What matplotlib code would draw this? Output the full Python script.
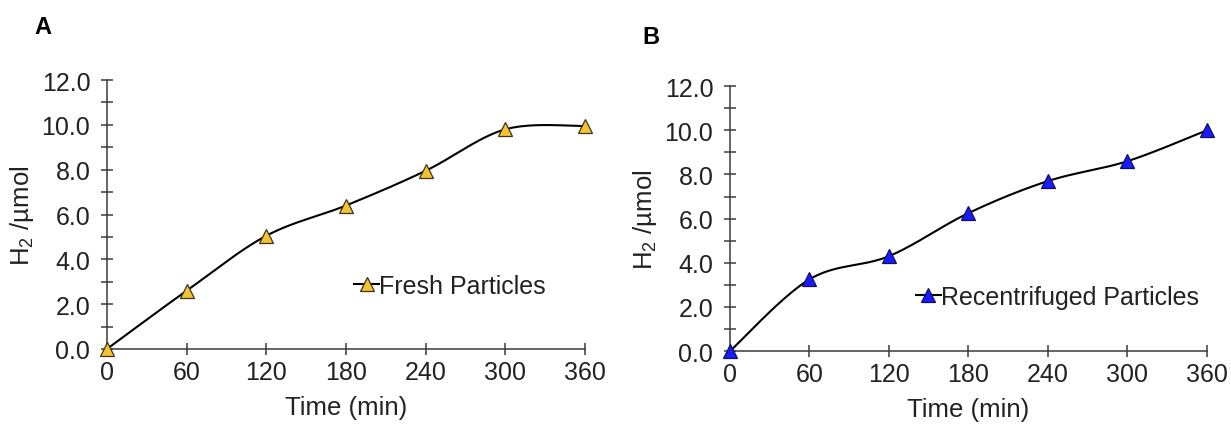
import numpy as np
import matplotlib
matplotlib.use("Agg")
import matplotlib.pyplot as plt
from matplotlib.ticker import MultipleLocator, FormatStrFormatter

# data
time_min = [0, 60, 120, 180, 240, 300, 360]
fresh = [0.0, 2.6, 5.05, 6.4, 7.95, 9.8, 9.95]
recent = [0.0, 3.25, 4.3, 6.25, 7.7, 8.6, 10.0]

plt.rcParams.update({
    "font.family": ["Liberation Sans", "DejaVu Sans"],
    "mathtext.fontset": "custom",
    "mathtext.rm": "Liberation Sans",
    "mathtext.it": "Liberation Sans:italic",
})

AXC = "#3a3a3a"


def smooth(x, y, n=40):
    # Excel-style smoothed line: cubic bezier with catmull-rom control points
    x = np.asarray(x, float)
    y = np.asarray(y, float)
    px = np.concatenate([[x[0]], x, [x[-1]]])
    py = np.concatenate([[y[0]], y, [y[-1]]])
    xs, ys = [], []
    t = np.linspace(0, 1, n)
    for i in range(1, len(px) - 2):
        p0 = np.array([px[i], py[i]])
        p3 = np.array([px[i + 1], py[i + 1]])
        c1 = p0 + (np.array([px[i + 1], py[i + 1]]) - np.array([px[i - 1], py[i - 1]])) / 6
        c2 = p3 - (np.array([px[i + 2], py[i + 2]]) - np.array([px[i], py[i]])) / 6
        b = ((1 - t) ** 3)[:, None] * p0 + (3 * (1 - t) ** 2 * t)[:, None] * c1 \
            + (3 * (1 - t) * t ** 2)[:, None] * c2 + (t ** 3)[:, None] * p3
        xs.append(b[:, 0])
        ys.append(b[:, 1])
    return np.concatenate(xs), np.concatenate(ys)


def panel(ax, y, face, edge, label, legend_anchor):
    sx, sy = smooth(time_min, y)
    ax.plot(sx, sy, color="black", lw=1.5, clip_on=False, zorder=2)
    ax.plot(time_min, y, linestyle="none", marker="^", ms=10, mfc=face,
            mec=edge, mew=0.9, clip_on=False, zorder=3)
    # legend proxy (line + marker)
    ax.plot([], [], color="black", lw=1.5, marker="^", ms=10, mfc=face,
            mec=edge, mew=0.9, label=label)
    ax.set_xlim(0, 360)
    ax.set_ylim(0, 12)
    ax.set_xticks(time_min)
    ax.yaxis.set_major_locator(MultipleLocator(2))
    ax.yaxis.set_minor_locator(MultipleLocator(1))
    ax.yaxis.set_major_formatter(FormatStrFormatter("%.1f"))
    for s in ("top", "right"):
        ax.spines[s].set_visible(False)
    for s in ("left", "bottom"):
        ax.spines[s].set_color(AXC)
        ax.spines[s].set_linewidth(1.1)
    ax.tick_params(axis="both", which="both", direction="inout", color=AXC,
                   width=1.1, labelsize=18, labelcolor="#222222")
    ax.tick_params(axis="both", which="major", length=8)
    ax.tick_params(axis="x", which="major", pad=4)
    ax.tick_params(axis="y", which="major", pad=8)
    ax.tick_params(axis="y", which="minor", length=8)
    ax.set_xlabel("Time (min)", fontsize=18.5, color="#222222", labelpad=8)
    ax.set_ylabel(r"H$_2$ /µmol", fontsize=18.5, color="#222222", labelpad=4)
    ax.legend(loc="center", bbox_to_anchor=legend_anchor, frameon=False,
              fontsize=18, handlelength=1.0, handletextpad=0.0,
              borderaxespad=0, labelcolor="#222222")


fig = plt.figure(figsize=(12.31, 4.31), dpi=100)
ax_a = fig.add_axes([0.0869, 0.188, 0.3883, 0.624])
ax_b = fig.add_axes([0.593, 0.183, 0.3875, 0.615])

panel(ax_a, fresh, "#F4C430", "#3d3320", "Fresh Particles", (0.718, 0.234))
panel(ax_b, recent, "#1a1aff", "#10105a", "Recentrifuged Particles", (0.686, 0.205))

fig.text(0.035, 0.937, "A", fontsize=17, fontweight="bold", va="center", ha="center")
fig.text(0.5285, 0.914, "B", fontsize=17, fontweight="bold", va="center", ha="center")

fig.savefig("out.png", dpi=100, facecolor="white")
